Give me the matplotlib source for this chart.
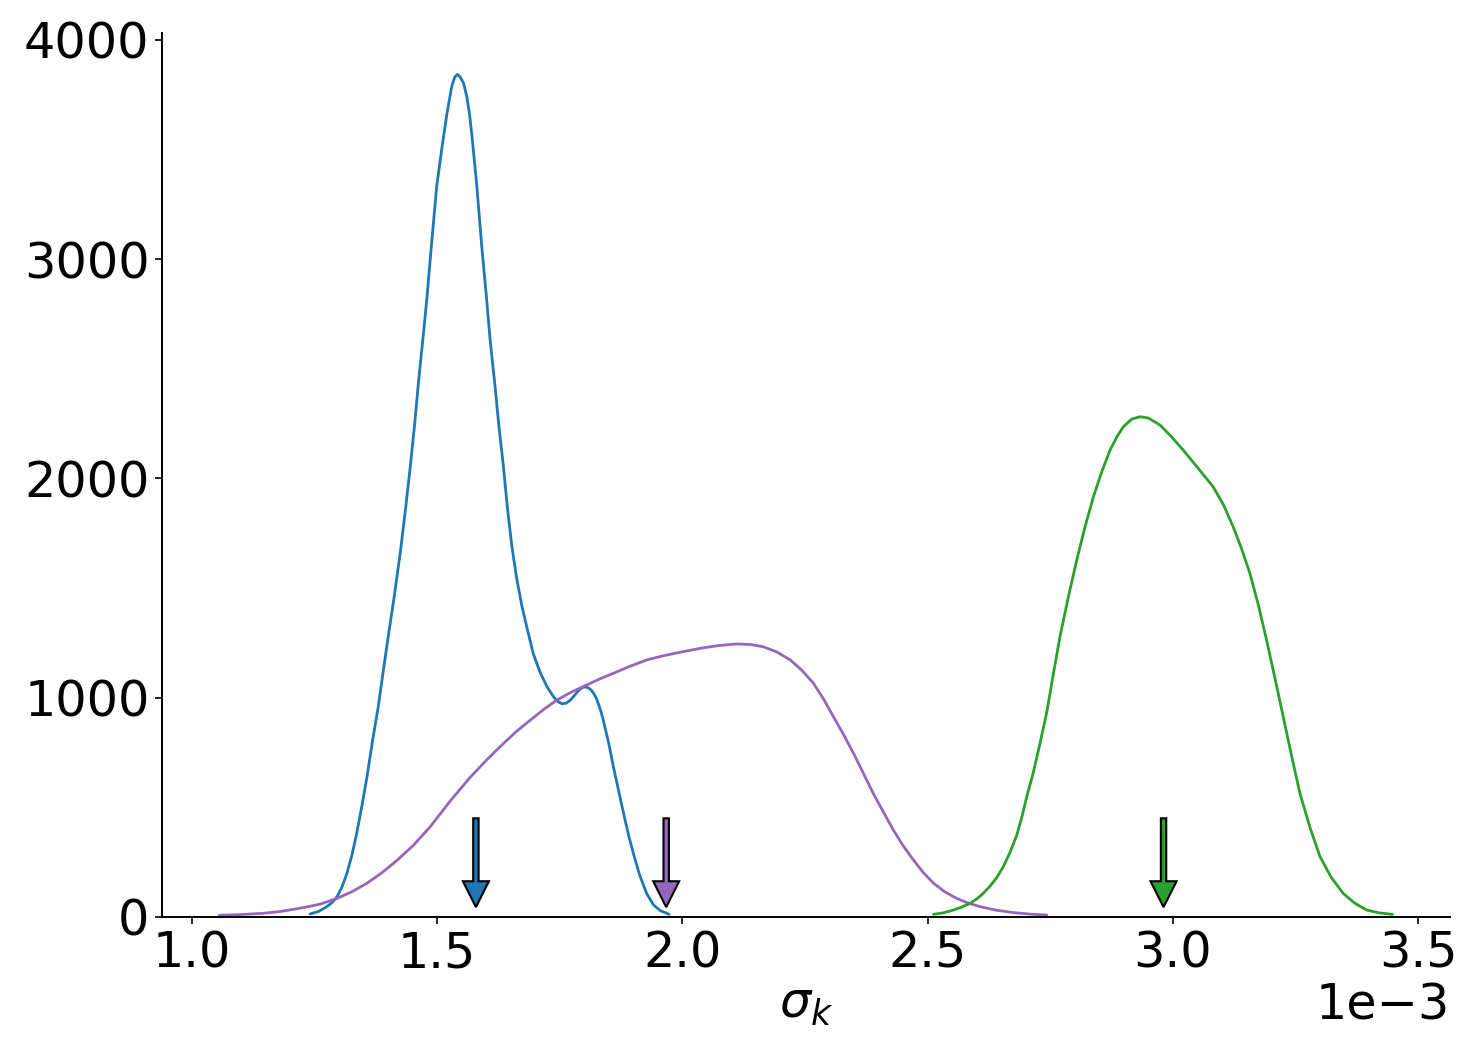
import matplotlib
matplotlib.use("Agg")
import matplotlib.pyplot as plt

# x values in units of 1e-3 (sigma_k), y = density
SCALE = 1e-3

blue_x = [1.241, 1.258, 1.275, 1.286, 1.296, 1.306, 1.316, 1.326, 1.336, 1.346,
          1.357, 1.368, 1.380, 1.390, 1.401, 1.413, 1.425, 1.435, 1.445, 1.454,
          1.462, 1.472, 1.479, 1.489, 1.499, 1.510, 1.520, 1.530, 1.536, 1.5414,
          1.547, 1.554, 1.5605, 1.566, 1.571, 1.581, 1.591, 1.601, 1.608, 1.618,
          1.626, 1.635, 1.643, 1.652, 1.662, 1.673, 1.683, 1.696, 1.710, 1.724,
          1.737, 1.746, 1.755, 1.763, 1.771, 1.778, 1.785, 1.792, 1.798, 1.803,
          1.808, 1.814, 1.819, 1.824, 1.829, 1.834, 1.839, 1.850, 1.859, 1.870,
          1.880, 1.890, 1.900, 1.913, 1.927, 1.941, 1.955, 1.973]
blue_y = [14, 25, 47, 66, 93, 137, 199, 280, 382, 500,
          640, 800, 960, 1120, 1290, 1470, 1665, 1850, 2050, 2245,
          2440, 2660, 2820, 3080, 3330, 3512, 3664, 3790, 3830, 3842,
          3830, 3801, 3740, 3660, 3560, 3330, 3056, 2813, 2631, 2420,
          2235, 2056, 1870, 1696, 1545, 1415, 1320, 1200, 1115, 1050,
          1005, 982, 972, 975, 988, 1005, 1024, 1040, 1048, 1049,
          1045, 1035, 1020, 1000, 970, 937, 895, 790, 688, 575,
          473, 375, 290, 190, 108, 55, 29, 12]

purple_x = [1.056, 1.100, 1.146, 1.180, 1.207, 1.235, 1.262, 1.296, 1.327, 1.357,
            1.388, 1.418, 1.452, 1.486, 1.527, 1.567, 1.600, 1.628, 1.660, 1.690,
            1.717, 1.744, 1.775, 1.805, 1.832, 1.859, 1.893, 1.927, 1.961, 1.995,
            2.036, 2.075, 2.111, 2.140, 2.165, 2.193, 2.220, 2.244, 2.267, 2.288,
            2.308, 2.329, 2.349, 2.369, 2.389, 2.410, 2.430, 2.450, 2.471, 2.491,
            2.512, 2.535, 2.559, 2.583, 2.607, 2.640, 2.675, 2.710, 2.743]
purple_y = [8, 11, 17, 25, 35, 46, 59, 85, 116, 154,
            203, 258, 328, 412, 530, 636, 714, 776, 843, 898,
            946, 989, 1027, 1058, 1086, 1111, 1143, 1172, 1191, 1207,
            1225, 1238, 1245, 1242, 1232, 1208, 1172, 1124, 1066, 993,
            913, 830, 746, 655, 564, 478, 397, 325, 260, 203,
            154, 115, 85, 63, 47, 31, 20, 13, 9]

green_x = [2.512, 2.532, 2.550, 2.568, 2.586, 2.600, 2.612, 2.627, 2.641, 2.654,
           2.668, 2.682, 2.692, 2.702, 2.715, 2.729, 2.743, 2.756, 2.770, 2.787,
           2.804, 2.821, 2.838, 2.855, 2.872, 2.886, 2.899, 2.916, 2.933, 2.950,
           2.974, 2.997, 3.021, 3.050, 3.082, 3.103, 3.123, 3.140, 3.157, 3.174,
           3.191, 3.208, 3.225, 3.242, 3.259, 3.280, 3.300, 3.323, 3.347, 3.371,
           3.395, 3.420, 3.448]
green_y = [12, 19, 30, 44, 62, 82, 105, 140, 180, 228,
           295, 375, 455, 548, 655, 790, 935, 1105, 1280, 1460,
           1628, 1780, 1916, 2030, 2129, 2190, 2235, 2270, 2281, 2275,
           2243, 2190, 2129, 2050, 1962, 1880, 1779, 1680, 1567, 1425,
           1263, 1090, 913, 735, 564, 405, 275, 180, 108, 63,
           32, 19, 12]

arrow_x = [1.579, 1.967, 2.981]
arrow_top = 450
arrow_tip = 45

blue = "#1f77b4"
purple = "#9467bd"
green = "#2ca02c"
arrow_colors = [blue, purple, green]

fig = plt.figure(figsize=(14.78, 10.55), dpi=100)
ax = fig.add_axes([162 / 1478, 1 - 917 / 1055, (1450 - 162) / 1478, (917 - 32.7) / 1055])

lw = 2.0
kw = dict(lw=lw, solid_joinstyle="round", solid_capstyle="round")
ax.plot([v * SCALE for v in blue_x], blue_y, color=blue, **kw)
ax.plot([v * SCALE for v in purple_x], purple_y, color=purple, **kw)
ax.plot([v * SCALE for v in green_x], green_y, color=green, **kw)

for xv, c in zip(arrow_x, arrow_colors):
    ax.arrow(xv * SCALE, arrow_top, 0, arrow_tip - arrow_top,
             width=1.1e-5, head_width=5.3e-5, head_length=118,
             length_includes_head=True, facecolor=c, edgecolor="black",
             linewidth=1.5, zorder=5)

ax.set_xlim(0.939e-3, 3.565e-3)
ax.set_ylim(0, 4032)
ax.set_yticks([0, 1000, 2000, 3000, 4000])
ax.set_xticks([1.0e-3, 1.5e-3, 2.0e-3, 2.5e-3, 3.0e-3, 3.5e-3])
ax.ticklabel_format(axis="x", style="sci", scilimits=(0, 0))

for s in ["top", "right"]:
    ax.spines[s].set_visible(False)
for s in ["left", "bottom"]:
    ax.spines[s].set_linewidth(1.4)

fs = 35.5
ax.tick_params(axis="both", labelsize=fs, length=5, width=1.2, pad=4)
ax.xaxis.get_offset_text().set_fontsize(fs)
ax.set_xlabel(r"$\sigma_k$", fontsize=fs, labelpad=2)

fig.savefig("out.png", dpi=100)
